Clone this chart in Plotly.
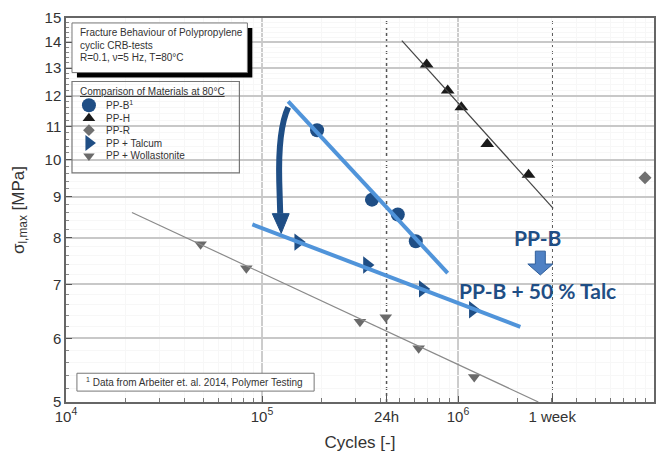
import numpy as np
import plotly.graph_objects as go

# Fatigue data of PP grades at 80 degC: cycles to failure vs. max. stress [MPa]
ppb_cycles = [1.91e5, 3.64e5, 4.93e5, 6.09e5]
ppb_stress = [10.88, 8.92, 8.55, 7.92]

pph_cycles = [6.92e5, 8.86e5, 1.04e6, 1.41e6, 2.29e6]
pph_stress = [13.13, 12.19, 11.62, 10.46, 9.58]

ppr_cycles = [9.0e6]
ppr_stress = [9.50]

talc_cycles = [1.53e5, 3.43e5, 6.61e5, 1.19e6]
talc_stress = [7.90, 7.40, 6.91, 6.51]

woll_cycles = [4.86e4, 8.32e4, 3.16e5, 4.28e5, 6.30e5, 1.21e6]
woll_stress = [7.85, 7.33, 6.29, 6.37, 5.83, 5.37]

# Trend lines (start / end points)
ppb_fit_cycles = [1.36e5, 8.86e5]
ppb_fit_stress = [11.82, 7.23]
talc_fit_cycles = [8.93e4, 2.08e6]
talc_fit_stress = [8.31, 6.20]
pph_fit_cycles = [5.17e5, 3.06e6]
pph_fit_stress = [14.06, 8.70]
woll_fit_cycles = [2.17e4, 2.57e6]
woll_fit_stress = [8.60, 5.00]

# Axis ticks
x_tickvals = [1e4, 1e5, 432000, 1e6, 3024000, 1e7]
x_ticktext = ["10<sup>4</sup>", "10<sup>5</sup>", "24h", "10<sup>6</sup>", "1 week", "10<sup>7</sup>"]
y_tickvals = [5, 6, 7, 8, 9, 10, 11, 12, 13, 14, 15]
y_ticktext = [str(v) for v in y_tickvals]

DARK = "#1F4E85"
LIGHT = "#5094DA"
FONT = "Liberation Sans, Arial, sans-serif"

fig = go.Figure()

# measured points
fig.add_trace(go.Scatter(x=ppb_cycles, y=ppb_stress, mode="markers",
                         marker=dict(symbol="circle", size=14, color=DARK)))
fig.add_trace(go.Scatter(x=talc_cycles, y=talc_stress, mode="markers",
                         marker=dict(symbol="triangle-right", size=15, color=DARK)))
fig.add_trace(go.Scatter(x=pph_cycles, y=pph_stress, mode="markers",
                         marker=dict(symbol="triangle-up", size=12, color="#1a1a1a")))
fig.add_trace(go.Scatter(x=ppr_cycles, y=ppr_stress, mode="markers",
                         marker=dict(symbol="diamond", size=10, color="#707070")))
fig.add_trace(go.Scatter(x=woll_cycles, y=woll_stress, mode="markers",
                         marker=dict(symbol="triangle-down", size=11, color="#6a6a6a")))

# trend lines
fig.add_trace(go.Scatter(x=pph_fit_cycles, y=pph_fit_stress, mode="lines",
                         line=dict(color="#444444", width=1.2)))
fig.add_trace(go.Scatter(x=woll_fit_cycles, y=woll_fit_stress, mode="lines",
                         line=dict(color="#8a8a8a", width=1.2)))
fig.add_trace(go.Scatter(x=ppb_fit_cycles, y=ppb_fit_stress, mode="lines",
                         line=dict(color=LIGHT, width=4)))
fig.add_trace(go.Scatter(x=talc_fit_cycles, y=talc_fit_stress, mode="lines",
                         line=dict(color=LIGHT, width=4)))

# legend symbols, drawn on an overlay axis spanning the plot area (0..1)
leg_y = [0.7726, 0.7390, 0.7080, 0.6744, 0.6408]
leg_sym = ["circle", "triangle-up", "diamond", "triangle-right", "triangle-down"]
leg_col = [DARK, "#1a1a1a", "#707070", DARK, "#6a6a6a"]
leg_size = [14, 11, 9, 14, 10]
leg_txt = ["PP-B<sup>1</sup>", "PP-H", "PP-R", "PP + Talcum", "PP + Wollastonite"]
for yy, s, c, sz in zip(leg_y, leg_sym, leg_col, leg_size):
    fig.add_trace(go.Scatter(x=[0.039], y=[yy], xaxis="x2", yaxis="y2", mode="markers",
                             marker=dict(symbol=s, size=sz, color=c), hoverinfo="skip"))

minor_x = [k * 10 ** d for d in (4, 5, 6) for k in range(2, 10)]
minor_y = [round(v, 1) for v in np.arange(5.2, 15.0, 0.2) if abs(v - round(v)) > 1e-6]

fig.update_layout(
    width=665, height=461,
    margin=dict(l=66, r=9, t=15, b=59),
    paper_bgcolor="white", plot_bgcolor="white",
    showlegend=False,
    font=dict(family=FONT, color="#333333"),
    xaxis=dict(type="log", range=[4, 7], tickvals=x_tickvals, ticktext=x_ticktext,
               ticks="inside", ticklen=6, tickcolor="#555", showgrid=False,
               showline=True, linecolor="#666", linewidth=1.5, mirror=True,
               tickfont=dict(size=15, color="#333"),
               title=dict(text="Cycles [-]", font=dict(size=17, color="#333"), standoff=12),
               minor=dict(tickvals=minor_x, ticks="inside", ticklen=4, tickcolor="#777",
                          showgrid=True, gridcolor="#f7f7f7", gridwidth=1),
               zeroline=False),
    yaxis=dict(type="log", range=[np.log10(5), np.log10(15)], tickvals=y_tickvals,
               ticktext=y_ticktext, ticks="inside", ticklen=6, tickcolor="#555",
               showgrid=True, gridcolor="#c8c8c8", gridwidth=1.5,
               showline=True, linecolor="#666", linewidth=1.5, mirror=True,
               tickfont=dict(size=15, color="#333"),
               title=dict(text="σ<sub>l,max</sub> [MPa]", font=dict(size=17, color="#333"),
                          standoff=16),
               minor=dict(tickvals=minor_y, ticks="inside", ticklen=3, tickcolor="#888",
                          showgrid=True, gridcolor="#f7f7f7", gridwidth=1),
               zeroline=False),
    xaxis2=dict(overlaying="x", range=[0, 1], visible=False, anchor="y2"),
    yaxis2=dict(overlaying="y", range=[0, 1], visible=False, anchor="x2"),
)

shapes = []
# decade grid lines
for xv in (1e5, 1e6):
    shapes.append(dict(type="line", xref="x", yref="paper", x0=xv, x1=xv, y0=0, y1=1,
                       line=dict(color="#9a9a9a", width=1), layer="below"))
# 24 h and 1 week markers
for xv in (432000, 3024000):
    shapes.append(dict(type="line", xref="x", yref="paper", x0=xv, x1=xv, y0=0, y1=1,
                       line=dict(color="#555", width=1.5, dash="dot"), layer="below"))

# header box with drop shadow
shapes.append(dict(type="rect", xref="paper", yref="paper", x0=0.0186, x1=0.3169,
                   y0=0.845, y1=0.974, fillcolor="black", line=dict(width=0)))
shapes.append(dict(type="rect", xref="paper", yref="paper", x0=0.0102, x1=0.3085,
                   y0=0.8579, y1=0.9871, fillcolor="white", line=dict(color="#777", width=1)))
# symbol box: white fill under the symbols, frame on top
shapes.append(dict(type="rect", xref="paper", yref="paper", x0=0.0102, x1=0.2949,
                   y0=0.5969, y1=0.8346, fillcolor="white", line=dict(width=0),
                   layer="between"))
shapes.append(dict(type="rect", xref="paper", yref="paper", x0=0.0102, x1=0.2949,
                   y0=0.5969, y1=0.8346, fillcolor="rgba(0,0,0,0)",
                   line=dict(color="#777", width=1.2), layer="above"))
# footnote box
shapes.append(dict(type="rect", xref="paper", yref="paper", x0=0.0186, x1=0.4220,
                   y0=0.0284, y1=0.0749, fillcolor="white", line=dict(color="#777", width=1)))


def pts(coords):
    return " ".join(f"{'M' if i == 0 else 'L'}{10 ** xl:.2f},{10 ** yl:.5f}"
                    for i, (xl, yl) in enumerate(coords))


# curved arrow from the PP-B trend to the talc-filled trend
arc = (f"M{10 ** 5.1337:.2f},{10 ** 1.0652:.5f} "
       f"C{10 ** 5.1032:.2f},{10 ** 1.0492:.5f} {10 ** 5.0829:.2f},{10 ** 1.0221:.5f} "
       f"{10 ** 5.0880:.2f},{10 ** 0.9727:.5f} L{10 ** 5.0930:.2f},{10 ** 0.9330:.5f}")
shapes.append(dict(type="path", xref="x", yref="y", path=arc,
                   line=dict(color=DARK, width=6)))
head = pts([(5.0524, 0.9330), (5.1388, 0.9330), (5.0981, 0.9086)]) + " Z"
shapes.append(dict(type="path", xref="x", yref="y", path=head, fillcolor=DARK,
                   line=dict(color=DARK, width=1)))

# small block arrow between the two labels
cx = 6.420
bw, hw = 0.0254, 0.0636
block = pts([(cx - bw, 0.8864), (cx + bw, 0.8864), (cx + bw, 0.8704), (cx + hw, 0.8704),
             (cx, 0.8568), (cx - hw, 0.8704), (cx - bw, 0.8704)]) + " Z"
shapes.append(dict(type="path", xref="x", yref="y", path=block, fillcolor="#4F81C4",
                   line=dict(color="#2F5E9A", width=1)))
fig.update_layout(shapes=shapes)

ann = []
for yy, t in zip([0.9612, 0.9276, 0.8966],
                 ["Fracture Behaviour of Polypropylene", "cyclic CRB-tests",
                  "R=0.1, ν=5 Hz, T=80°C"]):
    ann.append(dict(xref="paper", yref="paper", x=0.021, y=yy, text=t, showarrow=False,
                    xanchor="left", yanchor="middle", font=dict(size=10, color="#333")))
ann.append(dict(xref="paper", yref="paper", x=0.021, y=0.8088,
                text="Comparison of Materials at 80°C", showarrow=False,
                xanchor="left", yanchor="middle",
                font=dict(size=10, color="#333", lineposition="under")))
for yy, t in zip(leg_y, leg_txt):
    ann.append(dict(xref="paper", yref="paper", x=0.0644, y=yy, text=t, showarrow=False,
                    xanchor="left", yanchor="middle", font=dict(size=10, color="#333")))
ann.append(dict(xref="paper", yref="paper", x=0.031, y=0.0517,
                text="<sup>1</sup> Data from Arbeiter et. al. 2014, Polymer Testing",
                showarrow=False, xanchor="left", yanchor="middle",
                font=dict(size=10, color="#333")))
# material labels (log10 positions on the log axes)
ann.append(dict(xref="x", yref="y", x=6.4047, y=0.9037, text="<b>PP-B</b>",
                showarrow=False, font=dict(family="Lato", size=21, color=DARK)))
ann.append(dict(xref="x", yref="y", x=6.4047, y=0.8370, text="<b>PP-B + 50 % Talc</b>",
                showarrow=False, font=dict(family="Lato", size=21, color=DARK)))
fig.update_layout(annotations=ann)

fig.write_html("out.html")
